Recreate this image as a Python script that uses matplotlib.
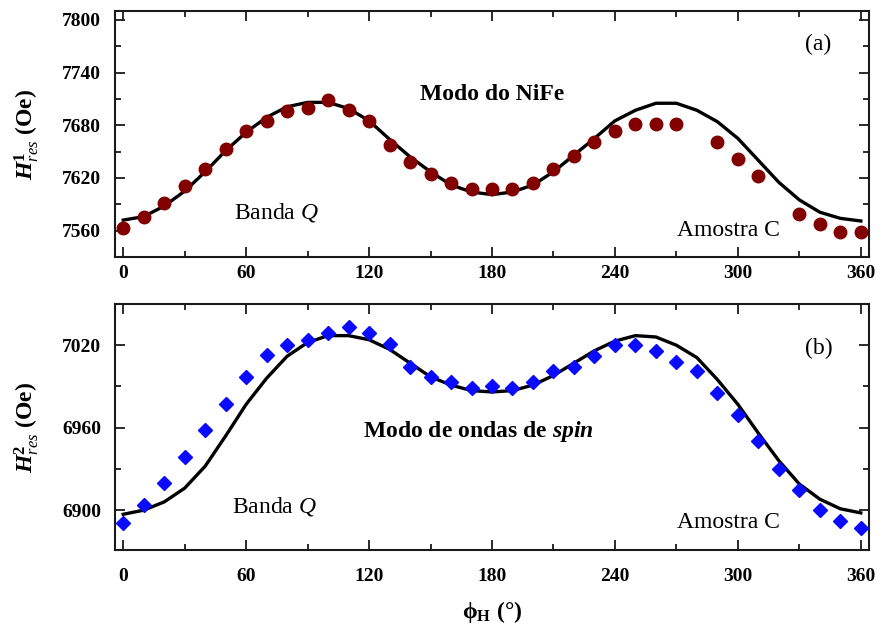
import numpy as np
import matplotlib
matplotlib.use("Agg")
import matplotlib.pyplot as plt
from matplotlib.ticker import MultipleLocator

plt.rcParams['font.family'] = ['Liberation Serif', 'DejaVu Serif']
plt.rcParams['mathtext.fontset'] = 'custom'
plt.rcParams['mathtext.rm'] = 'Liberation Serif:bold'
plt.rcParams['mathtext.bf'] = 'Liberation Serif:bold'
plt.rcParams['mathtext.it'] = 'Liberation Serif:italic'
plt.rcParams['mathtext.bfit'] = 'Liberation Serif:bold:italic'

# ---- Data: panel (a) NiFe mode ----
phi_a = [0, 10, 20, 30, 40, 50, 60, 70, 80, 90, 100, 110, 120, 130, 140, 150,
         160, 170, 180, 190, 200, 210, 220, 230, 240, 250, 260, 270, 290, 300,
         310, 330, 340, 350, 360]
hres1 = [7563, 7575, 7591, 7611, 7630, 7653, 7673, 7685, 7696, 7700, 7709,
         7697, 7685, 7658, 7638, 7625, 7614, 7607, 7607, 7607, 7614, 7630,
         7645, 7661, 7673, 7681, 7681, 7681, 7661, 7642, 7622, 7579, 7567,
         7559, 7559]

phi_fit = [0, 10, 20, 30, 40, 50, 60, 70, 80, 90, 100, 110, 120, 130, 140,
           150, 160, 170, 180, 190, 200, 210, 220, 230, 240, 250, 260, 270,
           280, 290, 300, 310, 320, 330, 340, 350, 360]
fit1 = [7572, 7576, 7588, 7605, 7627, 7651, 7672, 7689, 7701, 7706, 7706,
        7699, 7685, 7664, 7644, 7627, 7612, 7604, 7601, 7604, 7612, 7627,
        7646, 7665, 7685, 7697, 7705, 7705, 7697, 7684, 7665, 7640, 7615,
        7595, 7581, 7574, 7571]

# ---- Data: panel (b) spin-wave mode ----
phi_b = [0, 10, 20, 30, 40, 50, 60, 70, 80, 90, 100, 110, 120, 130, 140, 150,
         160, 170, 180, 190, 200, 210, 220, 230, 240, 250, 260, 270, 280, 290,
         300, 310, 320, 330, 340, 350, 360]
hres2 = [6891, 6904, 6920, 6939, 6958, 6977, 6997, 7013, 7020, 7024, 7029,
         7033, 7029, 7021, 7004, 6997, 6993, 6989, 6990, 6989, 6993, 7001,
         7004, 7012, 7020, 7020, 7016, 7008, 7001, 6985, 6969, 6950, 6930,
         6915, 6900, 6892, 6887]
fit2 = [6897, 6900, 6906, 6916, 6932, 6954, 6977, 6996, 7012, 7022, 7027,
        7027, 7024, 7017, 7007, 6997, 6991, 6987, 6986, 6987, 6991, 6998,
        7007, 7016, 7023, 7027, 7026, 7020, 7011, 6995, 6977, 6956, 6936,
        6919, 6908, 6901, 6898]

xticks = [0, 60, 120, 180, 240, 300, 360]

fig = plt.figure(figsize=(8.8, 6.36), dpi=100)
ax1 = fig.add_axes([0.1307, 0.5959, 0.8568, 0.3868])
ax2 = fig.add_axes([0.1307, 0.1352, 0.8568, 0.3868])

spine_col = '#1a1a1a'
for ax in (ax1, ax2):
    ax.set_xlim(-4, 364)
    ax.set_xticks(xticks)
    ax.xaxis.set_minor_locator(MultipleLocator(30))
    ax.yaxis.set_minor_locator(MultipleLocator(30))
    ax.tick_params(which='both', direction='in', top=True, right=True,
                   labeltop=False, labelright=False, color=spine_col,
                   width=1.3)
    ax.tick_params(which='major', length=7, labelsize=14, pad=6)
    ax.tick_params(which='minor', length=4)
    ax.tick_params(axis='y', which='major', pad=10)
    for s in ax.spines.values():
        s.set_linewidth(1.5)
        s.set_color(spine_col)
ax2.tick_params(axis='x', which='major', pad=13)

# Panel (a)
ax1.plot(phi_fit, fit1, color='black', lw=2.4, zorder=2)
ax1.plot(phi_a, hres1, ls='none', marker='o', ms=9, color='#820000',
         mec='#820000', zorder=3)
ax1.set_ylim(7530, 7810)
ax1.set_yticks([7560, 7620, 7680, 7740, 7800])
ax1.set_ylabel(r'$\mathbfit{H}^{\mathit{1}}_{\mathit{res}}$ (Oe)',
               fontsize=17, fontweight='bold', labelpad=15)
ax1.text(0.933, 0.865, '(a)', transform=ax1.transAxes, fontsize=17,
         ha='center', va='center')
ax1.text(0.5, 0.66, 'Modo do NiFe', transform=ax1.transAxes, fontsize=17,
         fontweight='bold', ha='center', va='center')
ax1.text(0.214, 0.18, 'Banda $\\mathit{Q}$', transform=ax1.transAxes,
         fontsize=17, ha='center', va='center')
ax1.text(0.813, 0.108, 'Amostra C', transform=ax1.transAxes, fontsize=17,
         ha='center', va='center')

# Panel (b)
ax2.plot(phi_fit, fit2, color='black', lw=2.4, zorder=2)
ax2.plot(phi_b, hres2, ls='none', marker='D', ms=7.5, color='#0a0aff',
         mec='#0a0aff', zorder=3)
ax2.set_ylim(6871, 7050)
ax2.set_yticks([6900, 6960, 7020])
ax2.set_ylabel(r'$\mathbfit{H}^{\mathit{2}}_{\mathit{res}}$ (Oe)',
               fontsize=17, fontweight='bold', labelpad=15)
ax2.text(0.933, 0.82, '(b)', transform=ax2.transAxes, fontsize=17,
         ha='center', va='center')
ax2.text(0.482, 0.48, 'Modo de ondas de $\\mathbfit{spin}$',
         transform=ax2.transAxes, fontsize=17, fontweight='bold',
         ha='center', va='center')
ax2.text(0.212, 0.175, 'Banda $\\mathit{Q}$', transform=ax2.transAxes,
         fontsize=17, ha='center', va='center')
ax2.text(0.813, 0.11, 'Amostra C', transform=ax2.transAxes, fontsize=17,
         ha='center', va='center')
ax2.set_xlabel('\u03d5$_{\\mathbf{H}}$ (°)', fontsize=17, fontweight='bold',
               labelpad=10)

for ax in (ax1, ax2):
    for lab in ax.get_xticklabels() + ax.get_yticklabels():
        lab.set_fontweight('bold')

fig.savefig('out.png', dpi=100)
